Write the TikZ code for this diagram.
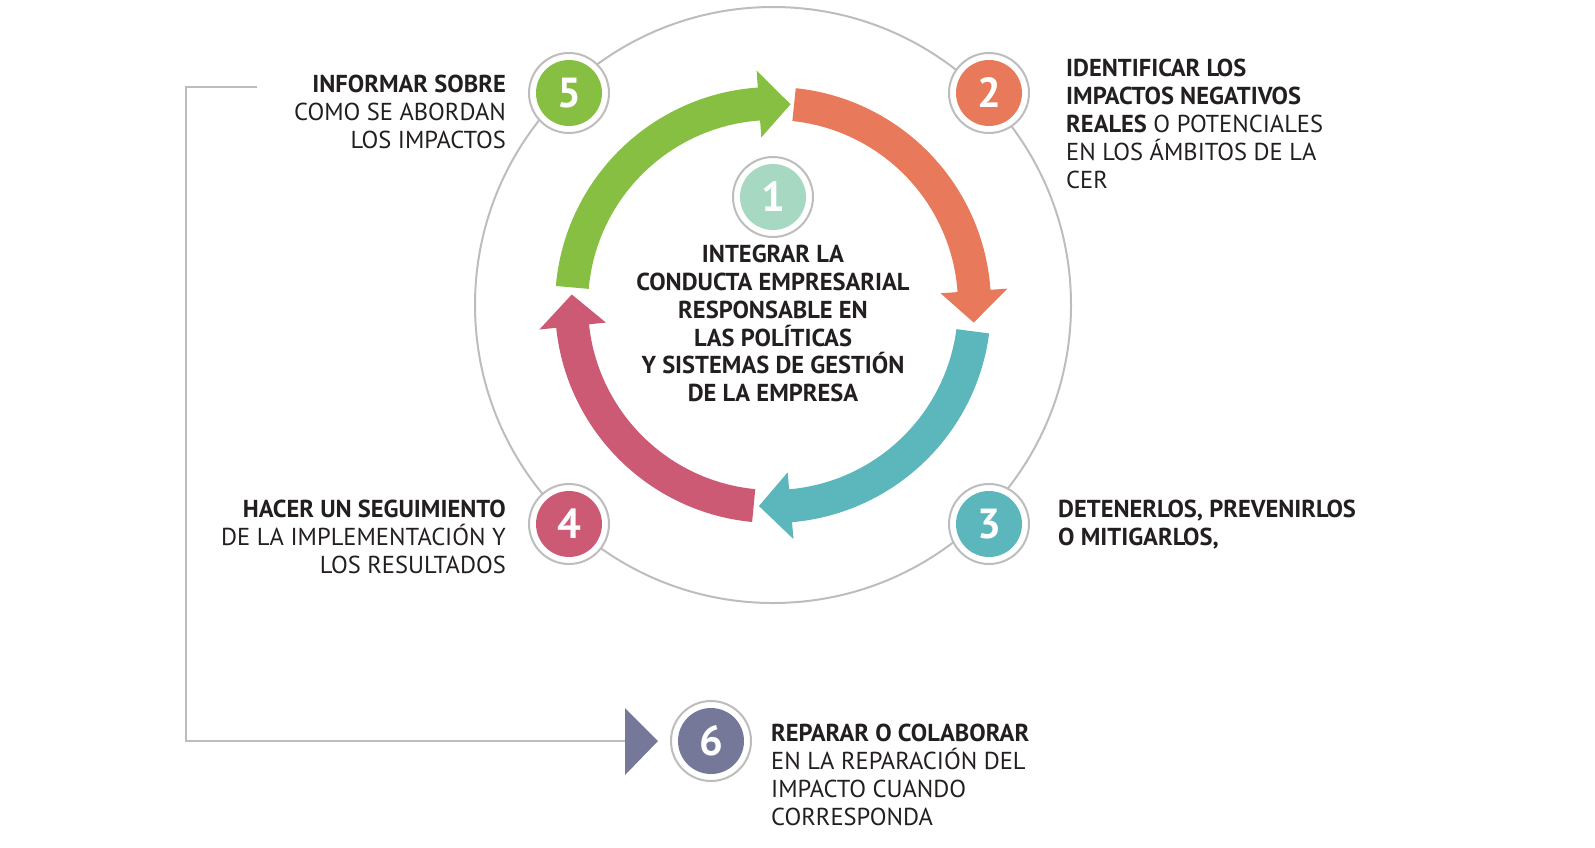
\documentclass[tikz,border=0pt]{standalone}
\usetikzlibrary{calc}
\usepackage{fontspec}
\setmainfont{PT Sans}
\definecolor{cg}{HTML}{86BF41}
\definecolor{co}{HTML}{E8795B}
\definecolor{ct}{HTML}{5BB7BB}
\definecolor{cp}{HTML}{CD5A74}
\definecolor{cm}{HTML}{A6D8C2}
\definecolor{cv}{HTML}{767899}
\definecolor{ring}{HTML}{BDBDBD}
\definecolor{txt}{HTML}{231F20}
\begin{document}
\begin{tikzpicture}[x=1pt,y=-1pt,
  lab/.style={inner sep=0pt,text=txt,font=\fontsize{24.5}{28}\selectfont},
  numc/.style={circle,draw=ring,line width=2pt,fill=white,minimum size=80pt,inner sep=0pt},
  numi/.style={circle,minimum size=66pt,inner sep=0pt,text=white,font=\fontsize{42}{42}\selectfont\bfseries}]
\useasboundingbox (0,0) rectangle (1595,847);
\coordinate (c) at (773,305);
\node[circle,draw=ring,line width=2pt,minimum size=596pt,inner sep=0pt] (big) at (c) {};
% arrows: angles negated because y points down
\newcommand\arw[4]{%
 \fill[#1] ($(c)+(-#2:218)$) arc[start angle=-#2,end angle=-#3,radius=218]
   -- ($(c)+(-#3:235)$) -- ($(c)+(-#4:201.5)$) -- ($(c)+(-#3:168)$) -- ($(c)+(-#3:185)$)
   arc[start angle=-#3,end angle=-#2,radius=185] -- cycle;}
\arw{cg}{175}{94}{85}
\arw{co}{84}{4}{-5}
\arw{ct}{-7.5}{-85}{-94}
\arw{cp}{-95.5}{-174}{-183}
% number circles
\foreach \n/\p/\col in {5/{(569,93)}/cg,2/{(989,93)}/co,4/{(569,524)}/cp,3/{(989,524)}/ct,1/{(773,197)}/cm,6/{(711,741)}/cv}{
  \node[numc] (o\n) at \p {};
  \node[numi,fill=\col] (n\n) at \p {\n};
}
% bracket
\coordinate (b0) at (257,87);
\coordinate (b1) at (186,87);
\coordinate (b2) at (186,741);
\coordinate (b3) at (626,741);
\draw[ring,line width=2pt] (b0) -- (b1) -- (b2) -- (b3);
\fill[cv] (625,708) -- (658,741) -- (625,775) -- cycle;
% texts
\node[lab,anchor=north east,align=right] (t5) at (506,75) {\textbf{INFORMAR SOBRE}\\COMO SE ABORDAN\\LOS IMPACTOS};
\node[lab,anchor=north west,align=left] (t2) at (1066,59) {\textbf{IDENTIFICAR LOS}\\\textbf{IMPACTOS NEGATIVOS}\\\textbf{REALES} O POTENCIALES\\EN LOS ÁMBITOS DE LA\\CER};
\node[lab,anchor=north west,align=left] (t3) at (1058,500) {\textbf{DETENERLOS, PREVENIRLOS}\\\textbf{O MITIGARLOS,}};
\node[lab,anchor=north east,align=right] (t4) at (506,500) {\textbf{HACER UN SEGUIMIENTO}\\DE LA IMPLEMENTACIÓN Y\\LOS RESULTADOS};
\node[lab,anchor=north west,align=left] (t6) at (771,724) {\textbf{REPARAR O COLABORAR}\\EN LA REPARACIÓN DEL\\IMPACTO CUANDO\\CORRESPONDA};
\node[lab,anchor=north,align=center,font=\fontsize{24.5}{27.8}\selectfont\bfseries] (t1) at (773,245) {INTEGRAR LA\\CONDUCTA EMPRESARIAL\\RESPONSABLE EN\\LAS POLÍTICAS\\Y SISTEMAS DE GESTIÓN\\DE LA EMPRESA};
\end{tikzpicture}
\end{document}
